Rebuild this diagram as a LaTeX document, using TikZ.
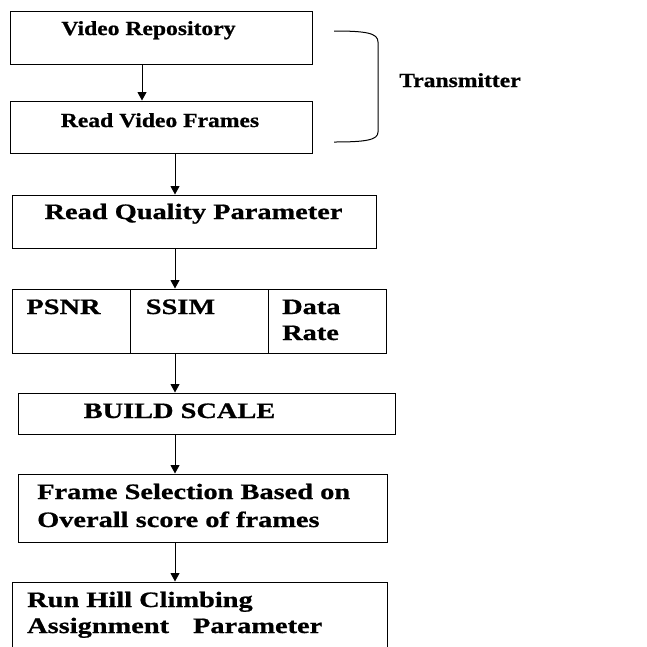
\documentclass[tikz,border=0pt]{standalone}
\usepackage{fontspec}
\usetikzlibrary{arrows.meta}
\newfontfamily\topfnt{Liberation Serif}[FakeStretch=1.18, BoldFeatures={FakeBold=0.8}]
\newfontfamily\lowfnt{Liberation Serif}[FakeStretch=1.29, BoldFeatures={FakeBold=0.8}]
\tikzset{
  box/.style={draw, line width=1pt, inner sep=0pt},
  arr/.style={line width=1pt, -{Triangle[length=8.5pt,width=9pt]}},
  ttxt/.style={inner sep=0pt, anchor=base, font=\topfnt\bfseries\fontsize{20}{24}\selectfont},
  ltxt/.style={inner sep=0pt, anchor=base, font=\lowfnt\bfseries\fontsize{22}{26}\selectfont},
  lwtxt/.style={ltxt, anchor=base west}
}
\begin{document}
\begin{tikzpicture}[x=1pt,y=-1pt]
\useasboundingbox (0,0) rectangle (647,646);
% boxes
\node[box, minimum width=302, minimum height=53] (b1) at (161,37.5) {};
\node[box, minimum width=302, minimum height=52] (b2) at (161,127) {};
\node[box, minimum width=364, minimum height=53] (b3) at (194,221.5) {};
\node[box, minimum width=118, minimum height=64] (c1) at (71,321) {};
\node[box, minimum width=138, minimum height=64] (c2) at (199,321) {};
\node[box, minimum width=118, minimum height=64] (c3) at (327,321) {};
\node[box, minimum width=377, minimum height=41] (b5) at (206.5,413.5) {};
\node[box, minimum width=369, minimum height=68] (b6) at (202.5,508) {};
\node[box, minimum width=375, minimum height=88] (b7) at (199.5,626) {};
% texts
\node[ttxt] (t1) at (148.5,35) {Video Repository};
\node[ttxt] (t2) at (160,127) {Read Video Frames};
\node[ttxt] (tt) at (460,87) {Transmitter};
\node[ltxt] (t3) at (193.5,219) {Read Quality Parameter};
\node[ltxt] (t4) at (63.5,314) {PSNR};
\node[ltxt] (t5) at (180.5,314) {SSIM};
\node[lwtxt] (t6a) at (282,314) {Data};
\node[lwtxt] (t6b) at (282,340) {Rate};
\node[ltxt] (t7) at (179.5,418) {BUILD SCALE};
\node[lwtxt] (t8a) at (37,499) {Frame Selection Based on};
\node[lwtxt] (t8b) at (37,527) {Overall score of frames};
\node[lwtxt] (t9a) at (27,607) {Run Hill Climbing};
\node[lwtxt] (t9b) at (27,633) {Assignment\hspace{24pt}Parameter};
% arrows
\coordinate (ax1) at (142,0);
\coordinate (ax) at (175,0);
\draw[arr] (b1.south -| ax1) -- (b2.north -| ax1);
\draw[arr] (b2.south -| ax) -- (b3.north -| ax);
\draw[arr] (b3.south -| ax) -- (c2.north -| ax);
\draw[arr] (c2.south -| ax) -- (b5.north -| ax);
\draw[arr] (b5.south -| ax) -- (b6.north -| ax);
\draw[arr] (b6.south -| ax) -- (b7.north -| ax);
% brace
\coordinate (bt) at (334,31);
\coordinate (bb) at (334,142);
\draw[line width=1pt] (bt) .. controls (366,31) and (378,33) .. (378,42)
  -- (378,132) .. controls (378,140) and (366,142) .. (bb);
\end{tikzpicture}
\end{document}
